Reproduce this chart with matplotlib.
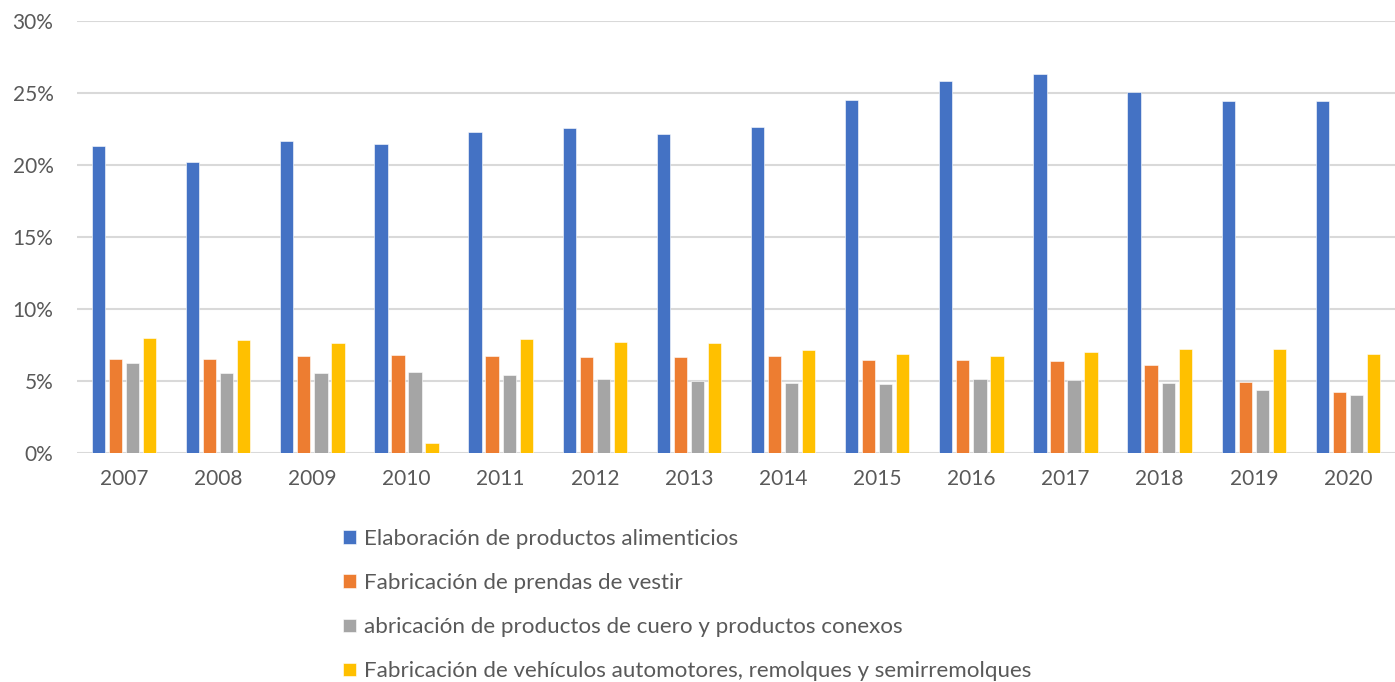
import numpy as np
import matplotlib
matplotlib.use("Agg")
import matplotlib.pyplot as plt
from matplotlib.ticker import PercentFormatter

plt.rcParams['font.family'] = ['Lato', 'DejaVu Sans']

years = ['2007', '2008', '2009', '2010', '2011', '2012', '2013',
         '2014', '2015', '2016', '2017', '2018', '2019', '2020']

alimentos = [21.33, 20.22, 21.63, 21.45, 22.26, 22.53, 22.12,
             22.60, 24.47, 25.81, 26.30, 25.07, 24.43, 24.43]
prendas = [6.52, 6.56, 6.73, 6.79, 6.77, 6.68, 6.66,
           6.75, 6.47, 6.45, 6.40, 6.12, 4.97, 4.28]
cuero = [6.29, 5.59, 5.59, 5.64, 5.43, 5.18, 5.04,
         4.85, 4.81, 5.18, 5.08, 4.90, 4.39, 4.02]
vehiculos = [8.02, 7.86, 7.65, 0.74, 7.93, 7.72, 7.65,
             7.16, 6.86, 6.75, 7.00, 7.26, 7.21, 6.89]

labels = ['Elaboración de productos alimenticios',
          'Fabricación de prendas de vestir',
          'abricación de productos de cuero y productos conexos',
          'Fabricación de vehículos automotores, remolques y semirremolques']
series = [alimentos, prendas, cuero, vehiculos]
colors = ['#4472C4', '#ED7D31', '#A5A5A5', '#FFC000']

text_color = '#595959'

fig = plt.figure(figsize=(13.95, 6.82), dpi=100)
ax = fig.add_axes([77 / 1395, 228.7 / 682, 1 - 77 / 1395, (661.3 - 228.7) / 682])

x = np.arange(len(years))
width = 0.141
step = 0.181
for i, (vals, col, lab) in enumerate(zip(series, colors, labels)):
    ax.bar(x + (i - 1.5) * step, vals, width, color=col, label=lab,
           edgecolor='white', linewidth=0.4, zorder=3)

ax.set_xlim(-0.5, len(years) - 0.5)
ax.set_ylim(0, 30)
ax.set_yticks(np.arange(0, 31, 5))
ax.yaxis.set_major_formatter(PercentFormatter(decimals=0))
ax.set_xticks(x)
ax.set_xticklabels(years)

ax.grid(axis='y', color='#d9d9d9', linewidth=1.5, zorder=0)
for s in ax.spines.values():
    s.set_visible(False)
ax.tick_params(axis='both', length=0, labelsize=15, colors=text_color)
ax.tick_params(axis='y', pad=17)
ax.tick_params(axis='x', pad=11)

leg = fig.legend(loc='upper left', bbox_to_anchor=(343 / 1395, 1 - 529 / 682),
                 frameon=False, fontsize=16.1, handlelength=0.56, handleheight=0.56,
                 handletextpad=0.36, labelspacing=1.08, borderpad=0, borderaxespad=0)
for t in leg.get_texts():
    t.set_color(text_color)

fig.savefig('out.png', dpi=100)
